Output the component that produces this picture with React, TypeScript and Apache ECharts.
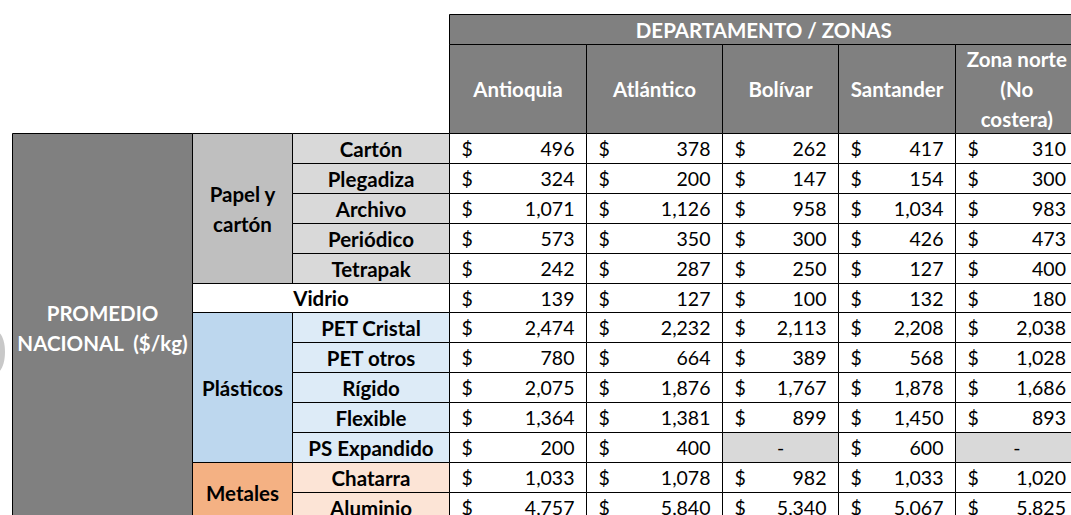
import React, { useEffect, useRef } from "react";
import * as echarts from "echarts";

// ---------- data ----------
const headerTitle = "DEPARTAMENTO / ZONAS";
const zones = ["Antioquia", "Atlántico", "Bolívar", "Santander", "Zona norte\n(No\ncostera)"];
const nationalLabel = "PROMEDIO\nNACIONAL  ($/kg)";
const groups = ["Papel y\ncartón", "Vidrio", "Plásticos", "Metales"];
const groupSizes = [5, 1, 5, 2];
const materials = [
  "Cartón", "Plegadiza", "Archivo", "Periódico", "Tetrapak",
  "Vidrio",
  "PET Cristal", "PET otros", "Rígido", "Flexible", "PS Expandido",
  "Chatarra", "Aluminio",
];
const antioquia = [496, 324, 1071, 573, 242, 139, 2474, 780, 2075, 1364, 200, 1033, 4757];
const atlantico = [378, 200, 1126, 350, 287, 127, 2232, 664, 1876, 1381, 400, 1078, 5840];
const bolivar = [262, 147, 958, 300, 250, 100, 2113, 389, 1767, 899, null, 982, 5340];
const santander = [417, 154, 1034, 426, 127, 132, 2208, 568, 1878, 1450, 600, 1033, 5067];
const zonaNorte = [310, 300, 983, 473, 400, 180, 2038, 1028, 1686, 893, null, 1020, 5825];
const zoneValues = [antioquia, atlantico, bolivar, santander, zonaNorte];

// ---------- layout / styles ----------
const W = 1071;
const H = 515;
const COL = [12.5, 192.5, 292.5, 449.5, 586.5, 722.5, 838.5, 955.5, 1078];
const HEAD = [14.5, 44.5, 133.5];
const ROW_H = 29.9;
const rowEdge = (i: number) => Math.round(133 + i * ROW_H) + 0.5;
const FONT = "Lato";
const FS_DATA = 19.5;
const FS_LABEL = 20.5;
const groupFill = ["#BFBFBF", "#FFFFFF", "#BDD7EE", "#F4B183"];
const subFill = ["#D9D9D9", "#FFFFFF", "#DDEBF7", "#FCE4D6"];
const headFill = "#808080";
const emptyFill = "#D9D9D9";

type T = { text: string; align: "left" | "center" | "right"; color: string; bold: boolean };
type Cell = { x0: number; y0: number; x1: number; y1: number; fill: string; texts: T[] };

const fmt = (v: number) => v.toLocaleString("en-US");

function buildCells(): Cell[] {
  const cells: Cell[] = [];
  cells.push({
    x0: COL[3], x1: COL[8], y0: HEAD[0], y1: HEAD[1], fill: headFill,
    texts: [{ text: headerTitle, align: "center", color: "#fff", bold: true }],
  });
  zones.forEach((z, i) => {
    cells.push({
      x0: COL[3 + i], x1: COL[4 + i], y0: HEAD[1], y1: HEAD[2], fill: headFill,
      texts: [{ text: z, align: "center", color: "#fff", bold: true }],
    });
  });
  cells.push({
    x0: COL[0], x1: COL[1], y0: rowEdge(0), y1: rowEdge(materials.length), fill: headFill,
    texts: [{ text: nationalLabel, align: "center", color: "#fff", bold: true }],
  });
  let r = 0;
  groups.forEach((g, gi) => {
    const n = groupSizes[gi];
    if (n === 1 && g === materials[r]) {
      cells.push({
        x0: COL[1], x1: COL[3], y0: rowEdge(r), y1: rowEdge(r + 1), fill: groupFill[gi],
        texts: [{ text: g, align: "center", color: "#000", bold: true }],
      });
    } else {
      cells.push({
        x0: COL[1], x1: COL[2], y0: rowEdge(r), y1: rowEdge(r + n), fill: groupFill[gi],
        texts: [{ text: g, align: "center", color: "#000", bold: true }],
      });
      for (let k = 0; k < n; k++) {
        cells.push({
          x0: COL[2], x1: COL[3], y0: rowEdge(r + k), y1: rowEdge(r + k + 1), fill: subFill[gi],
          texts: [{ text: materials[r + k], align: "center", color: "#000", bold: true }],
        });
      }
    }
    r += n;
  });
  zoneValues.forEach((vals, zi) => {
    vals.forEach((v, ri) => {
      const base = { x0: COL[3 + zi], x1: COL[4 + zi], y0: rowEdge(ri), y1: rowEdge(ri + 1) };
      if (v === null) {
        cells.push({ ...base, fill: emptyFill, texts: [{ text: "-", align: "center", color: "#000", bold: false }] });
      } else {
        cells.push({
          ...base, fill: "#FFFFFF",
          texts: [
            { text: "$", align: "left", color: "#000", bold: false },
            { text: fmt(v as number), align: "right", color: "#000", bold: false },
          ],
        });
      }
    });
  });
  return cells;
}

export default function App() {
  const ref = useRef<HTMLDivElement>(null);
  useEffect(() => {
    if (!ref.current) return;
    const chart = echarts.init(ref.current, null, { renderer: "svg" });
    const cells = buildCells();
    const PAD = 12;
    chart.setOption({
      animation: false,
      backgroundColor: "#ffffff",
      grid: { left: 0, top: 0, width: W, height: H },
      xAxis: { type: "value", min: 0, max: W, show: false },
      yAxis: { type: "value", min: 0, max: H, inverse: true, show: false },
      graphic: [
        {
          type: "ellipse",
          shape: { cx: -3, cy: 352, rx: 8, ry: 20 },
          style: { fill: "#C8C8C8" },
        },
      ],
      series: [
        {
          type: "custom",
          coordinateSystem: "cartesian2d",
          clip: false,
          data: cells.map((c) => [c.x0, c.y0, c.x1, c.y1]),
          renderItem: (params: any, api: any) => {
            const c = cells[params.dataIndex];
            const p0 = api.coord([api.value(0), api.value(1)]);
            const p1 = api.coord([api.value(2), api.value(3)]);
            const cy = (p0[1] + p1[1]) / 2;
            const children: any[] = [
              {
                type: "rect",
                shape: { x: p0[0], y: p0[1], width: p1[0] - p0[0], height: p1[1] - p0[1] },
                style: { fill: c.fill, stroke: "#000", lineWidth: 1 },
              },
            ];
            c.texts.forEach((t) => {
              const x = t.align === "left" ? p0[0] + PAD : t.align === "right" ? p1[0] - PAD : (p0[0] + p1[0]) / 2;
              children.push({
                type: "text",
                x,
                y: cy,
                style: {
                  text: t.text,
                  fill: t.color,
                  fontFamily: FONT,
                  fontSize: t.bold ? FS_LABEL : FS_DATA,
                  fontWeight: t.bold ? "bold" : "normal",
                  align: t.align,
                  verticalAlign: "middle",
                  lineHeight: 30,
                },
              });
            });
            return { type: "group", children };
          },
        },
      ],
    });
    return () => chart.dispose();
  }, []);
  return (
    <div
      ref={ref}
      style={{ position: "absolute", left: 0, top: 0, width: W, height: H }}
    />
  );
}
